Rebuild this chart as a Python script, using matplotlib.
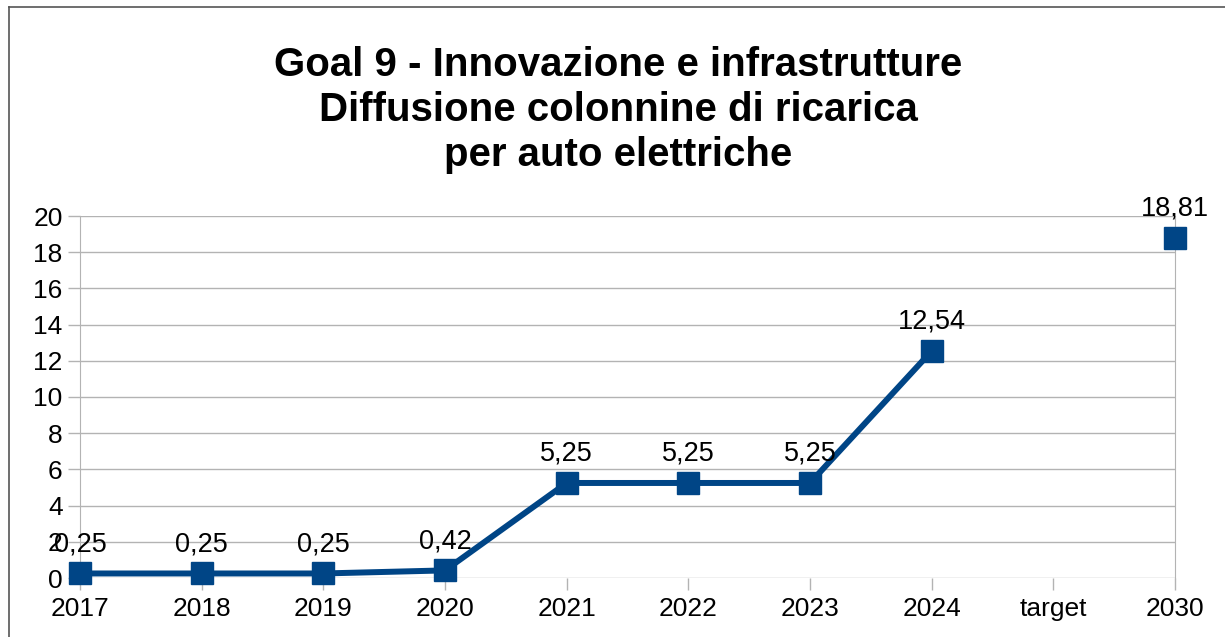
import matplotlib.pyplot as plt
from matplotlib.lines import Line2D
import numpy as np

plt.rcParams['font.family'] = ['Liberation Sans', 'DejaVu Sans']

# dati
categorie = ['2017', '2018', '2019', '2020', '2021', '2022', '2023', '2024', 'target', '2030']
valori = [0.25, 0.25, 0.25, 0.42, 5.25, 5.25, 5.25, 12.54, np.nan, 18.81]
titolo = 'Goal 9 - Innovazione e infrastrutture\nDiffusione colonnine di ricarica\nper auto elettriche'

blu = '#004586'
grigio = '#b3b3b3'

fig = plt.figure(figsize=(12.25, 6.37), dpi=100)
ax = fig.add_axes([80 / 1225, 1 - 578 / 637, 1095 / 1225, 362 / 637])

x = np.arange(len(categorie))
y = np.array(valori, dtype=float)
ax.plot(x, y, color=blu, lw=4.3, marker='s', markersize=15.5, clip_on=False, zorder=3)

# etichette dei valori
for xi, yi in zip(x, y):
    if np.isnan(yi):
        continue
    ax.annotate(f'{yi:.2f}'.replace('.', ','), (xi, yi), xytext=(0, 16), textcoords='offset points',
                ha='center', va='baseline', fontsize=19.5, zorder=4)

ax.set_xlim(0, len(categorie) - 1)
ax.set_ylim(0, 20)
ax.set_yticks(range(0, 21, 2))
ax.set_xticks(x)
ax.set_xticklabels(categorie)
ax.grid(axis='y', color=grigio, lw=1)
ax.set_axisbelow(True)
for s in ['top', 'bottom']:
    ax.spines[s].set_visible(False)
ax.spines['left'].set_color(grigio)
ax.spines['right'].set_color(grigio)
ax.tick_params(axis='both', colors=grigio, labelcolor='black', labelsize=19, length=8.5, width=1)
ax.tick_params(axis='y', pad=4)
ax.tick_params(axis='x', pad=5)

fig.text(0.5 + 6 / 1225, 1 - 110 / 637, titolo, ha='center', va='center', fontsize=29,
         fontweight='bold', linespacing=1.22)

# cornice del grafico
fig.add_artist(Line2D([9 / 1225, 1], [1 - 7 / 637, 1 - 7 / 637], color='#555555', lw=1.2))
fig.add_artist(Line2D([9 / 1225, 9 / 1225], [0, 1 - 7 / 637], color='#555555', lw=1.2))

fig.savefig('out.png', dpi=100)
